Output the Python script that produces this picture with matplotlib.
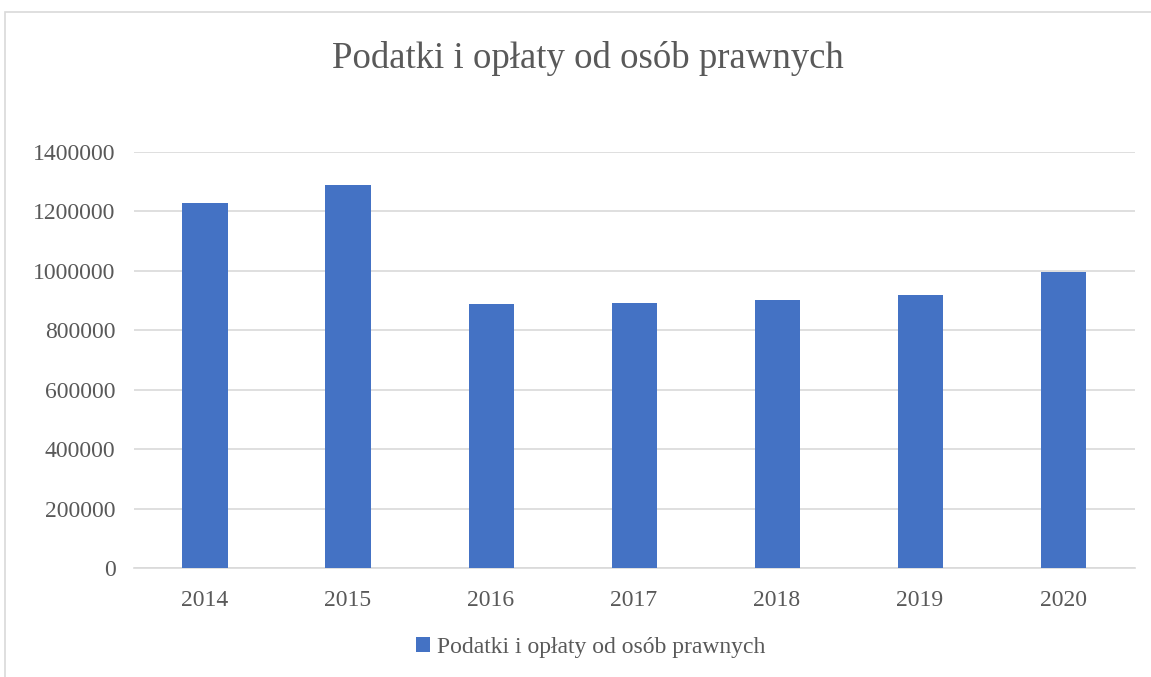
import matplotlib.pyplot as plt
from matplotlib.patches import Rectangle
from matplotlib.ticker import StrMethodFormatter

lata = ['2014', '2015', '2016', '2017', '2018', '2019', '2020']
wartosci = [1228000, 1289000, 888000, 892000, 903000, 919000, 997000]
nazwa = 'Podatki i opłaty od osób prawnych'

plt.rcParams['font.family'] = ['Liberation Serif', 'DejaVu Serif']
szary = '#595959'

fig = plt.figure(figsize=(11.51, 6.77), dpi=100)
ax = fig.add_axes([0.116, 0.161, 0.8697, 0.6145])

# ramka wykresu
fig.patches.append(Rectangle((5 / 1151, -0.01), 1.1, 1 - 12 / 677 + 0.01,
                             transform=fig.transFigure, fill=False,
                             edgecolor='#d9d9d9', linewidth=1.2))

ax.bar(lata, wartosci, width=0.315, color='#4472C4', label=nazwa, zorder=3)
ax.set_xlim(-0.5, len(lata) - 0.5)
ax.set_ylim(0, 1400000)
ax.set_yticks(range(0, 1400001, 200000))
ax.yaxis.set_major_formatter(StrMethodFormatter('{x:.0f}'))
ax.grid(axis='y', color='#d9d9d9', linewidth=1.2, zorder=0)
for s in ['top', 'right', 'left']:
    ax.spines[s].set_visible(False)
ax.spines['bottom'].set_color('#d9d9d9')
ax.spines['bottom'].set_linewidth(1.2)
ax.tick_params(length=0, labelsize=17, colors=szary)
ax.tick_params(axis='y', pad=13)
ax.tick_params(axis='x', pad=16)

fig.text(0.511, 0.914, nazwa, ha='center', va='center', fontsize=26.5, color=szary)
fig.legend(loc='center', bbox_to_anchor=(0.513, 0.044), frameon=False,
           fontsize=17, labelcolor=szary, handlelength=0.6, handleheight=0.6,
           handletextpad=0.3)

fig.savefig('out.png', dpi=100)
